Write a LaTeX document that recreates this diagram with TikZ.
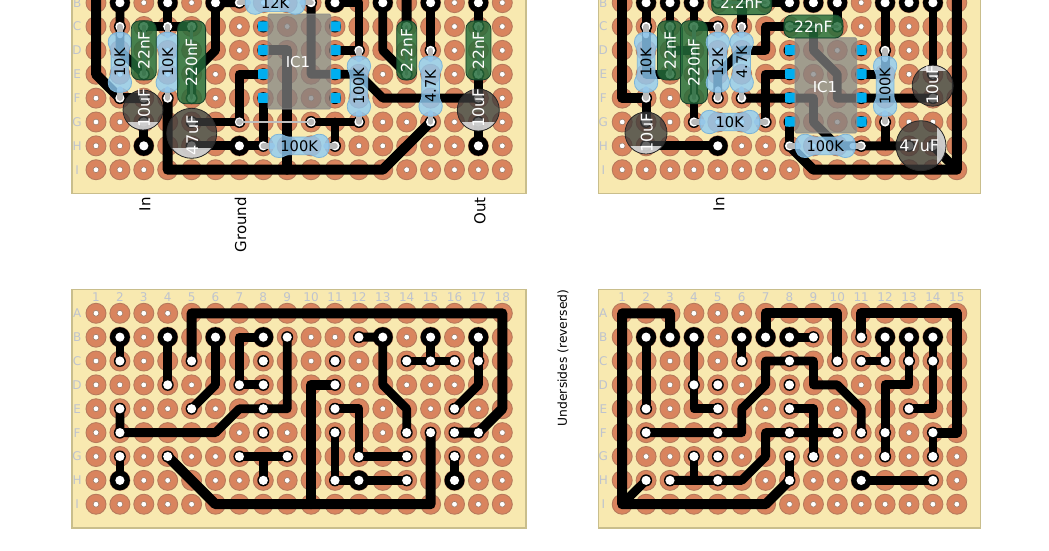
\documentclass[tikz,border=0pt]{standalone}
\usepackage{fontspec}
\setmainfont{DejaVu Sans}
\usetikzlibrary{calc}
\definecolor{boardfill}{HTML}{F8E9B0}
\definecolor{boardedge}{HTML}{C9BE8C}
\definecolor{padfill}{HTML}{D9845E}
\definecolor{padedge}{HTML}{B67A5C}
\definecolor{holeedge}{HTML}{9E7B66}
\definecolor{gridtext}{HTML}{BEC3CE}
\definecolor{leadgray}{HTML}{B9B9B9}
\definecolor{resfill}{HTML}{8ECBF4}
\definecolor{resedge}{HTML}{7DB4D8}
\definecolor{filmfill}{HTML}{246C3A}
\definecolor{filmedge}{HTML}{15402A}
\definecolor{pincyan}{HTML}{00AEEF}
\tikzset{
  trace/.style={draw=black,line width=8.8pt,line join=round,line cap=round},
  rail/.style={draw=black,line width=10pt,line join=round,line cap=round},
  leadline/.style={draw=leadgray,line width=5.5pt,line cap=round},
  thinlead/.style={draw=leadgray,line width=3.5pt,line cap=round},
  gridlabel/.style={text=gridtext,font=\fontsize{12}{12}\selectfont,inner sep=0pt},
  outlabel/.style={rotate=90,anchor=east,text=black,font=\fontsize{15}{15}\selectfont,inner sep=0pt},
  resbody/.style={fill=resfill,fill opacity=.8,draw=resedge,line width=.8pt},
  filmbody/.style={fill=filmfill,fill opacity=.83,draw=filmedge,line width=.8pt,rounded corners=8pt},
  partlabel/.style={inner sep=0pt,transform shape,font=\fontsize{14.6}{15}\selectfont},
  filmlabel/.style={inner sep=0pt,transform shape,text=white,font=\fontsize{15.5}{16}\selectfont},
  elecbody/.style={fill=black!77,fill opacity=.78},
  icbody/.style={fill=black!49,fill opacity=.74,draw=black!45,line width=.8pt,rounded corners=1.5pt},
  pinbox/.style={fill=pincyan,rounded corners=1pt},
  jumper/.style={draw=black!25,line width=2.5pt},
}
\newcount\nn
\newcommand\nextname{\global\advance\nn by 1 }
\newcommand\tracesA{
  \draw[rail] (5,3)--(5,1)--(18,1)--(18,5)--(17,6)--(16,6);
  \draw[trace] (2,2)--(2,3);
  \draw[trace] (4,2)--(4,4);
  \draw[trace] (6,2)--(6,4)--(5,5);
  \draw[trace] (8,2)--(7,2)--(7,4)--(8,4);
  \draw[trace] (9,2)--(9,5)--(7,5)--(6,6)--(2,6)--(2,5);
  \draw[trace] (7,7)--(9,7);
  \draw[trace] (8,7)--(8,8);
  \draw[trace] (2,7)--(2,8);
  \draw[rail] (4,7)--(6,9)--(15,9)--(15,6);
  \draw[rail] (10,9)--(10,4)--(11,4);
  \draw[trace] (12,2)--(13,2)--(13,4)--(14,5)--(14,6);
  \draw[trace] (11,5)--(12,5)--(12,7)--(14,7);
  \draw[trace] (11,6)--(11,8)--(14,8);
  \draw[trace] (15,2)--(15,3);
  \draw[trace] (14,3)--(16,3);
  \draw[trace] (17,2)--(17,4)--(16,5);
  \draw[trace] (16,7)--(16,8);
  \foreach \c/\r in {2/2,4/2,6/2,8/2,2/8,13/2,12/8,15/2,17/2,16/8}
    \fill[black] (\c,\r) circle[radius=10pt];
  \foreach \c/\r in {2/2,2/3,4/2,4/4,6/2,5/5,8/2,7/4,8/4,8/3,9/2,8/5,2/6,2/5,8/6,7/7,9/7,8/8,2/7,2/8,4/7,5/3,15/6,16/6,17/6,11/4,11/3,11/5,12/7,14/7,11/6,11/8,12/8,14/8,12/2,13/2,14/6,15/2,15/3,14/3,16/3,17/2,17/3,16/5,16/7,16/8}{
    \fill[black] (\c,\r) circle[radius=6pt];
    \fill[white] (\c,\r) circle[radius=4.6pt];
  }
}
\newcommand\tracesB{
  \draw[rail] (3,2)--(3,1)--(1,1)--(1,9)--(7,9)--(8,8);
  \draw[trace] (8,8)--(8,7);
  \draw[trace] (2,8)--(1,9);
  \draw[trace] (2,2)--(2,5);
  \draw[trace] (4,2)--(4,5)--(5,5);
  \draw[trace] (6,2)--(6,3);
  \draw[rail] (7,2)--(7,1)--(10,1)--(10,3);
  \draw[trace] (8,2)--(9,2);
  \draw[trace] (2,6)--(6,6)--(6,5)--(7,4)--(7,3)--(9,3)--(9,4)--(10,4)--(11,5)--(11,6);
  \draw[trace] (8,5)--(9,5)--(9,7);
  \draw[trace] (10,6)--(7,6)--(7,7)--(6,8)--(3,8);
  \draw[trace] (4,7)--(4,8);
  \draw[rail] (11,2)--(11,1)--(15,1)--(15,6)--(14,6);
  \draw[trace] (14,6)--(14,7);
  \draw[trace] (11,3)--(12,3)--(12,2);
  \draw[trace] (13,2)--(13,4)--(12,4)--(12,7);
  \draw[trace] (14,2)--(14,5)--(13,5);
  \draw[trace] (11,8)--(14,8);
  \foreach \c/\r in {2/2,3/2,4/2,6/2,7/2,8/2,12/2,13/2,14/2,11/8}
    \fill[black] (\c,\r) circle[radius=10pt];
  \foreach \c/\r in {2/2,2/5,3/2,2/8,4/2,4/4,5/5,5/4,6/2,6/3,7/2,8/3,8/4,8/5,8/2,9/2,2/6,5/6,8/6,10/6,4/7,5/7,3/8,5/8,8/7,8/8,9/7,10/3,11/6,11/2,11/3,12/3,12/2,13/2,13/3,12/6,12/7,14/2,14/3,13/5,14/6,14/7,11/8,14/8}{
    \fill[black] (\c,\r) circle[radius=6pt];
    \fill[white] (\c,\r) circle[radius=4.6pt];
  }
}
\newcommand\boardinner[2]{
  \foreach \c in {1,...,#1}\foreach \r in {1,...,9}{
    \filldraw[fill=padfill,draw=padedge,line width=.9pt] (\c,\r) circle[radius=10pt];
    \filldraw[fill=white,draw=holeedge,line width=.6pt] (\c,\r) circle[radius=2.9pt];
  }
  #2
}
% board: #1 x0, #2 y0, #3 columns, #4 mirrored? (1 = yes, 0 = no), #5 traces
\newcommand\board[5]{
  \fill[boardfill] (#1,#2) rectangle ++({(#3+1)*23.9},238.7);
  \draw[boardedge,line width=1.5pt] (#1,#2) rectangle ++({(#3+1)*23.9},238.7);
  \ifnum#4=1
    \begin{scope}[shift={({#1+(#3+1)*23.9},#2)},x=-23.9pt,y=-23.87pt]
      \boardinner{#3}{#5}
    \end{scope}
    \begin{scope}[shift={(#1,#2)},x=23.9pt,y=-23.87pt]
      \foreach \r/\t in {2/B,3/C,4/D,5/E,6/F,7/G,8/H,9/I}{
        \nextname
        \node[gridlabel] (row\the\nn) at (.21,\r) {\t};
      }
    \end{scope}
  \else
    \begin{scope}[shift={(#1,#2)},x=23.9pt,y=-23.87pt]
      \boardinner{#3}{#5}
      \foreach \r/\t in {1/A,2/B,3/C,4/D,5/E,6/F,7/G,8/H,9/I}{
        \nextname
        \node[gridlabel] (row\the\nn) at (.21,\r) {\t};
      }
      \foreach \c in {1,...,#3}{
        \nextname
        \node[gridlabel] (col\the\nn) at (\c,.31) {\c};
      }
    \end{scope}
  \fi
}
% resistor: #1 first hole, #2 second hole, #3 angle, #4 label
\newcommand\res[4]{
  \draw[leadline] (#1) -- ($(#1)!9pt!(#2)$);
  \draw[leadline] (#2) -- ($(#2)!9pt!(#1)$);
  \begin{scope}[shift={($(#1)!.5!(#2)$)},rotate=#3,x=1pt,y=1pt]
    \path[resbody] (-30,0) .. controls (-30,8) and (-26,11.7) .. (-20,11.7)
      .. controls (-16,11.7) and (-14,8.8) .. (-10,8.8) -- (10,8.8)
      .. controls (14,8.8) and (16,11.7) .. (20,11.7)
      .. controls (26,11.7) and (30,8) .. (30,0)
      .. controls (30,-8) and (26,-11.7) .. (20,-11.7)
      .. controls (16,-11.7) and (14,-8.8) .. (10,-8.8) -- (-10,-8.8)
      .. controls (-14,-8.8) and (-16,-11.7) .. (-20,-11.7)
      .. controls (-26,-11.7) and (-30,-8) .. (-30,0) -- cycle;
    \nextname
    \node[partlabel] (res\the\nn) at (0,0) {#4};
  \end{scope}
}
% film capacitor: #1 first hole, #2 second hole, #3 angle, #4 half length, #5 half width, #6 label
\newcommand\film[6]{
  \draw[thinlead] (#1) -- (#2);
  \begin{scope}[shift={($(#1)!.5!(#2)$)},rotate=#3,x=1pt,y=1pt]
    \path[filmbody] (-#4,-#5) rectangle (#4,#5);
    \nextname
    \node[filmlabel] (film\the\nn) at (0,0) {#6};
  \end{scope}
}
% electrolytic: #1 centre, #2 radius, #3 stripe direction, #4 stripe offset, #5 text angle, #6 text offset, #7 label
\newcommand\elec[7]{
  \begin{scope}[shift={(#1)},x=1pt,y=1pt]
    \path[elecbody] (0,0) circle[radius=#2pt];
    \begin{scope}[rotate=#3]
      \clip (0,0) circle[radius=#2pt];
      \fill[black!12,fill opacity=.85] (#4,-#2) rectangle (#2,#2);
    \end{scope}
    \draw[black!85,line width=.8pt] (0,0) circle[radius=#2pt];
    \nextname
    \node[inner sep=0pt,text=white,rotate=#5,font=\fontsize{16}{16}\selectfont] (elec\the\nn) at (#6) {#7};
  \end{scope}
}
% IC: #1 x left, #2 y top, #3 x right, #4 y bottom, #5 label position
\newcommand\icchip[5]{
  \foreach \k in {0,1,2,3}{
    \fill[pinbox] ({#1-10},{#2+12.3+23.87*\k-5}) rectangle ({#1+.5},{#2+12.3+23.87*\k+5});
    \fill[pinbox] ({#3-.5},{#2+12.3+23.87*\k-5}) rectangle ({#3+10},{#2+12.3+23.87*\k+5});
  }
  \path[icbody] (#1,#2) rectangle (#3,#4);
  \nextname
  \node[inner sep=0pt,text=white,font=\fontsize{15}{15}\selectfont] (ic\the\nn) at (#5) {IC1};
}
\begin{document}
\begin{tikzpicture}[x=1pt,y=-1pt]
\path[use as bounding box] (0,0) rectangle (1049,550);
\clip (0,0) rectangle (1049,550);
\fill[white] (0,0) rectangle (1049,550);
% boards
\board{72.1}{-45.1}{18}{1}{\tracesA}
\board{598.3}{-45.1}{15}{1}{\tracesB}
\board{72.1}{289.4}{18}{0}{\tracesA}
\board{598.3}{289.4}{15}{0}{\tracesB}
% top left parts
\icchip{268}{14}{330.7}{109}{298,62}
\begin{scope}[shift={(72.1,-45.1)},x=23.9pt,y=-23.87pt]
  \draw[jumper] (7,7) -- (10,7);
  \foreach \p in {(7,7),(10,7)} \fill[leadgray] \p circle[radius=3.3pt];
  \res{2,3}{2,6}{90}{10K}
  \res{4,3}{4,6}{90}{10K}
  \film{3,3}{3,5}{90}{29.5}{12.5}{22nF}
  \film{5,3}{5,6}{90}{41.5}{14}{220nF}
  \res{7,2}{10,2}{0}{12K}
  \res{8,8}{11,8}{0}{100K}
  \res{12,4}{12,7}{90}{100K}
  \res{15,4}{15,7}{90}{4.7K}
  \film{14,3}{14,5}{90}{29.5}{10}{2.2nF}
  \film{17,3}{17,5}{90}{29.5}{12.5}{22nF}
\end{scope}
\elec{143,110}{20}{270}{12}{90}{1,2}{10uF}
\elec{191.7,133.3}{25}{270}{15}{90}{.6,-2}{47uF}
\elec{478.3,110}{21}{270}{12}{90}{0,2}{10uF}
% top right parts
\icchip{795}{37.7}{856.7}{133}{825,87}
\begin{scope}[shift={(598.3,-45.1)},x=23.9pt,y=-23.87pt]
  \res{2,3}{2,6}{90}{10K}
  \film{3,3}{3,5}{90}{29.5}{12.5}{22nF}
  \film{4,3}{4,6}{90}{41.5}{13.5}{220nF}
  \res{5,3}{5,6}{90}{12K}
  \res{6,3}{6,6}{90}{4.7K}
  \res{4,7}{7,7}{0}{10K}
  \film{5,2}{7,2}{0}{30}{12}{2.2nF}
  \film{8,3}{10,3}{0}{29.5}{11.5}{22nF}
  \res{12,4}{12,7}{90}{100K}
  \res{8,8}{11,8}{0}{100K}
\end{scope}
\elec{646,133}{21}{270}{13}{90}{.7,0}{10uF}
\elec{932.7,85.7}{20.5}{90}{15}{90}{-.4,.7}{10uF}
\elec{921,145.7}{25}{0}{15.7}{0}{-1.7,0}{47uF}
% outside labels
\node[outlabel] (inA) at (145,197) {In};
\node[outlabel] (gnd) at (240.5,197) {Ground};
\node[outlabel] (outA) at (480,197) {Out};
\node[outlabel] (inB) at (719,197) {In};
\node[rotate=90,inner sep=0pt,font=\fontsize{12.3}{12.3}\selectfont] (under) at (563,358) {Undersides (reversed)};
\end{tikzpicture}
\end{document}
